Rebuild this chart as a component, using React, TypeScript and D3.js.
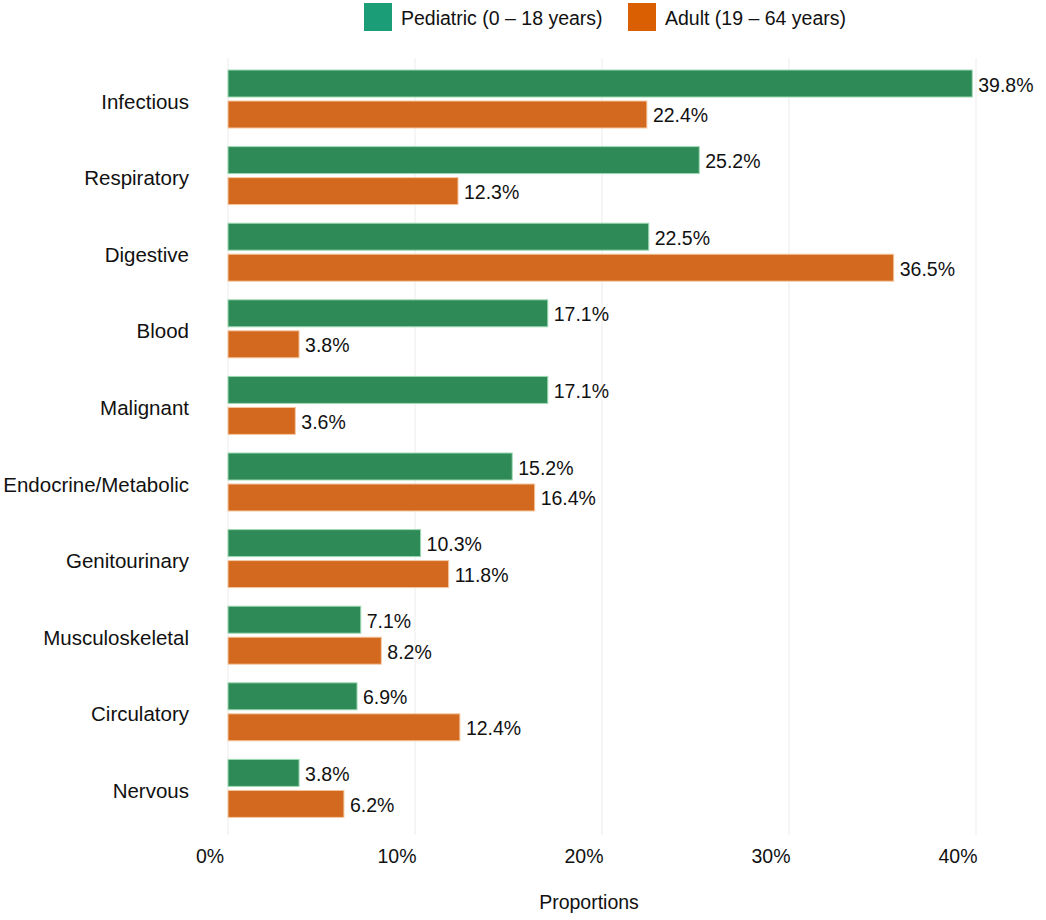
import React from "react";
import * as d3 from "d3";

const categories = [
  "Infectious",
  "Respiratory",
  "Digestive",
  "Blood",
  "Malignant",
  "Endocrine/Metabolic",
  "Genitourinary",
  "Musculoskeletal",
  "Circulatory",
  "Nervous",
];
// bar lengths as drawn in the reference
const pediatric = [39.8, 25.2, 22.5, 17.1, 17.1, 15.2, 10.3, 7.1, 6.9, 3.8];
const adult = [22.4, 12.3, 35.6, 3.8, 3.6, 16.4, 11.8, 8.2, 12.4, 6.2];
// value labels as printed in the reference
const pediatricLabels = ["39.8%", "25.2%", "22.5%", "17.1%", "17.1%", "15.2%", "10.3%", "7.1%", "6.9%", "3.8%"];
const adultLabels = ["22.4%", "12.3%", "36.5%", "3.8%", "3.6%", "16.4%", "11.8%", "8.2%", "12.4%", "6.2%"];
const seriesNames = ["Pediatric (0 – 18 years)", "Adult (19 – 64 years)"];
const xTicks = [0, 10, 20, 30, 40];

const W = 1046;
const H = 920;
const FONT = "'Liberation Sans', Arial, sans-serif";
const FS = 19.5;
const FS_CAT = 20.5;
const barFill = ["#2e8b57", "#d2691e"];
const barStroke = ["#9fd9b4", "#f5c9a0"];
const legendFill = ["#1b9e77", "#d95f02"];

export default function App() {
  const x = d3.scaleLinear().domain([0, 40]).range([228, 976]);
  const y = d3
    .scaleBand<string>()
    .domain(categories)
    .range([60.7, 826.7])
    .paddingInner(0.243)
    .paddingOuter(0.1215);
  const inner = d3
    .scaleBand<string>()
    .domain(["0", "1"])
    .range([0, y.bandwidth()])
    .paddingInner(0.129);
  const series = [pediatric, adult];
  const labels = [pediatricLabels, adultLabels];

  return (
    <svg
      width={W}
      height={H}
      style={{ position: "absolute", left: 0, top: 0, background: "#fff" }}
      fontFamily={FONT}
    >
      {xTicks.map((t) => (
        <line
          key={"g" + t}
          x1={x(t)}
          x2={x(t)}
          y1={58}
          y2={835}
          stroke="#ececec"
          strokeWidth={1}
        />
      ))}
      {categories.map((c, i) => (
        <g key={c}>
          <text
            x={189}
            y={(y(c) as number) + y.bandwidth() / 2 + 2}
            textAnchor="end"
            dominantBaseline="central"
            fontSize={FS_CAT}
            fill="#111"
          >
            {c}
          </text>
          {series.map((s, si) => {
            const by = (y(c) as number) + (inner(String(si)) as number);
            const bh = inner.bandwidth();
            return (
              <g key={si}>
                <rect
                  x={x(0)}
                  y={by}
                  width={x(s[i]) - x(0)}
                  height={bh}
                  fill={barFill[si]}
                  stroke={barStroke[si]}
                  strokeWidth={1}
                />
                <text
                  x={x(s[i]) + 6}
                  y={by + bh / 2 + 1}
                  dominantBaseline="central"
                  fontSize={FS}
                  fill="#111"
                >
                  {labels[si][i]}
                </text>
              </g>
            );
          })}
        </g>
      ))}
      {xTicks.map((t) => (
        <text
          key={"t" + t}
          x={x(t) - 18}
          y={856}
          textAnchor="middle"
          dominantBaseline="central"
          fontSize={FS}
          fill="#111"
        >
          {t + "%"}
        </text>
      ))}
      <text
        x={589}
        y={902}
        textAnchor="middle"
        dominantBaseline="central"
        fontSize={FS}
        fill="#111"
      >
        Proportions
      </text>
      {seriesNames.map((n, i) => {
        const lx = [364, 628][i];
        return (
          <g key={n}>
            <rect x={lx} y={3} width={28} height={28} fill={legendFill[i]} />
            <text
              x={lx + 37}
              y={18}
              dominantBaseline="central"
              fontSize={FS}
              fill="#111"
            >
              {n}
            </text>
          </g>
        );
      })}
    </svg>
  );
}
